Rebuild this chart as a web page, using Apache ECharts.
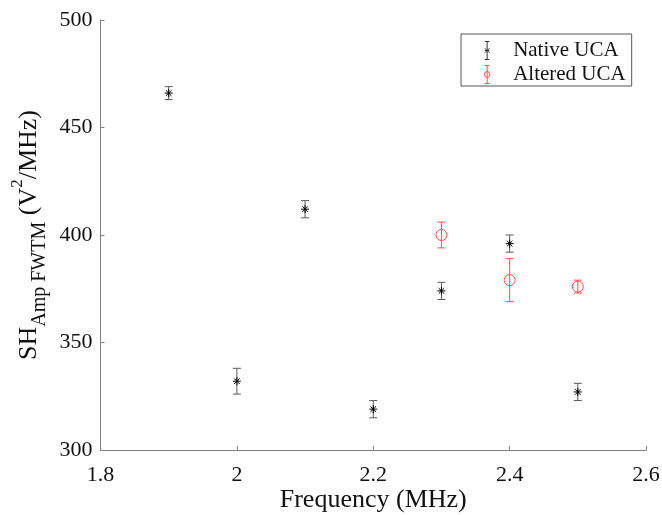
<!DOCTYPE html>
<html>
<head>
<meta charset="utf-8">
<script src="https://cdn.jsdelivr.net/npm/echarts@6/dist/echarts.min.js"></script>
<style>html,body{margin:0;padding:0;background:#fff}#c{width:662px;height:515px}</style>
</head>
<body>
<div id="c"></div>
<script>
const nativeX = [1.9, 2.0, 2.1, 2.2, 2.3, 2.4, 2.5];
const nativeY = [466, 332, 412, 319, 374, 396, 327];
const nativeErr = [3, 6, 4, 4, 4, 4, 4];
const alteredX = [2.3, 2.4, 2.5];
const alteredY = [400, 379, 376];
const alteredErr = [6, 10, 3];
const xTicks = [1.8, 2.0, 2.2, 2.4, 2.6];
const yTicks = [300, 350, 400, 450, 500];

const FONT = '"Liberation Serif", "Times New Roman", serif';
const GREY = '#5a5a5a';
const RED = '#ff5050';

function errData(xs, ys, es) { return xs.map((x, i) => [x, ys[i], es[i]]); }
function errRender(color) {
  return function (params, api) {
    const x = api.value(0), y = api.value(1), e = api.value(2);
    const t = api.coord([x, y + e]), b = api.coord([x, y - e]);
    const hw = 4;
    const st = { stroke: color, lineWidth: 1 };
    return {
      type: 'group', children: [
        { type: 'line', shape: { x1: t[0], y1: t[1], x2: b[0], y2: b[1] }, style: st },
        { type: 'line', shape: { x1: t[0] - hw, y1: t[1], x2: t[0] + hw, y2: t[1] }, style: st },
        { type: 'line', shape: { x1: b[0] - hw, y1: b[1], x2: b[0] + hw, y2: b[1] }, style: st }
      ]
    };
  };
}

const starPath = 'path://M0,-5L0,5M-5,0L5,0M-3.5,-3.5L3.5,3.5M-3.5,3.5L3.5,-3.5';
const legendNative = 'path://M5,0L5,24M2,0L8,0M2,24L8,24M2,9L8,15M8,9L2,15M2,12L8,12';
const legendAltered = 'path://M5,0L5,24M2,0L8,0M2,24L8,24M8.5,12A3.5,4,0,1,0,1.5,12A3.5,4,0,1,0,8.5,12';

const chart = echarts.init(document.getElementById('c'));
chart.setOption({
  animation: false,
  backgroundColor: '#fff',
  grid: { left: 100.5, right: 16, top: 20, bottom: 65, containLabel: false, outerBoundsMode: 'none' },
  xAxis: {
    type: 'value', min: 1.8, max: 2.6, interval: 0.2,
    name: 'Frequency (MHz)', nameLocation: 'middle', nameGap: 37, nameMoveOverlap: false,
    nameTextStyle: { fontFamily: FONT, fontSize: 26, color: '#111' },
    axisLine: { lineStyle: { color: '#808080', width: 1 } },
    axisTick: { inside: true, length: 4, lineStyle: { color: '#808080' } },
    axisLabel: { fontFamily: FONT, fontSize: 22, color: '#111', margin: 14,
      formatter: v => String(+v.toFixed(1)) },
    splitLine: { show: false }
  },
  yAxis: {
    type: 'value', min: 300, max: 500, interval: 50,
    name: '{m|SH}{s|Amp FWTM}{m| (V}{p|2}{m|/MHz)}', nameLocation: 'middle', nameGap: 51,
    nameRotate: 90, nameMoveOverlap: false,
    nameTextStyle: {
      fontFamily: FONT, color: '#111',
      rich: {
        m: { fontFamily: FONT, fontSize: 26, lineHeight: 40, verticalAlign: 'middle', color: '#111' },
        s: { fontFamily: FONT, fontSize: 20, lineHeight: 20, verticalAlign: 'bottom', color: '#111' },
        p: { fontFamily: FONT, fontSize: 17, lineHeight: 17, verticalAlign: 'top', color: '#111' }
      }
    },
    axisLine: { show: true, lineStyle: { color: '#808080', width: 1 } },
    axisTick: { show: true, inside: true, length: 4, lineStyle: { color: '#808080' } },
    axisLabel: { fontFamily: FONT, fontSize: 22, color: '#111', margin: 8 },
    splitLine: { show: false }
  },
  legend: {
    orient: 'vertical', left: 461, top: 34,
    padding: [5, 6, 0, 21], itemGap: 1, itemWidth: 12, itemHeight: 18,
    borderColor: '#555', borderWidth: 1, backgroundColor: '#fff',
    textStyle: { fontFamily: FONT, fontSize: 21, color: '#111', lineHeight: 22, padding: [0, 0, 0, 15] },
    data: [
      { name: 'Native UCA', icon: legendNative, itemStyle: { color: 'none', borderColor: '#333', borderWidth: 1 } },
      { name: 'Altered UCA', icon: legendAltered, itemStyle: { color: 'none', borderColor: RED, borderWidth: 1 } }
    ]
  },
  series: [
    { name: 'Native UCA', type: 'custom', renderItem: errRender(GREY), data: errData(nativeX, nativeY, nativeErr), z: 2,
      itemStyle: { color: '#333' } },
    { name: 'Native UCA', type: 'scatter', symbol: starPath, symbolSize: 8,
      itemStyle: { color: 'none', borderColor: '#000', borderWidth: 1, opacity: 1 },
      data: nativeX.map((x, i) => [x, nativeY[i]]), z: 3 },
    { name: 'Altered UCA', type: 'custom', renderItem: errRender(RED), data: errData(alteredX, alteredY, alteredErr), z: 2,
      itemStyle: { color: RED } },
    { name: 'Altered UCA', type: 'scatter', symbol: 'circle', symbolSize: 11,
      itemStyle: { color: 'none', borderColor: RED, borderWidth: 1, opacity: 1 },
      data: alteredX.map((x, i) => [x, alteredY[i]]), z: 3 }
  ]
});
</script>
</body>
</html>
